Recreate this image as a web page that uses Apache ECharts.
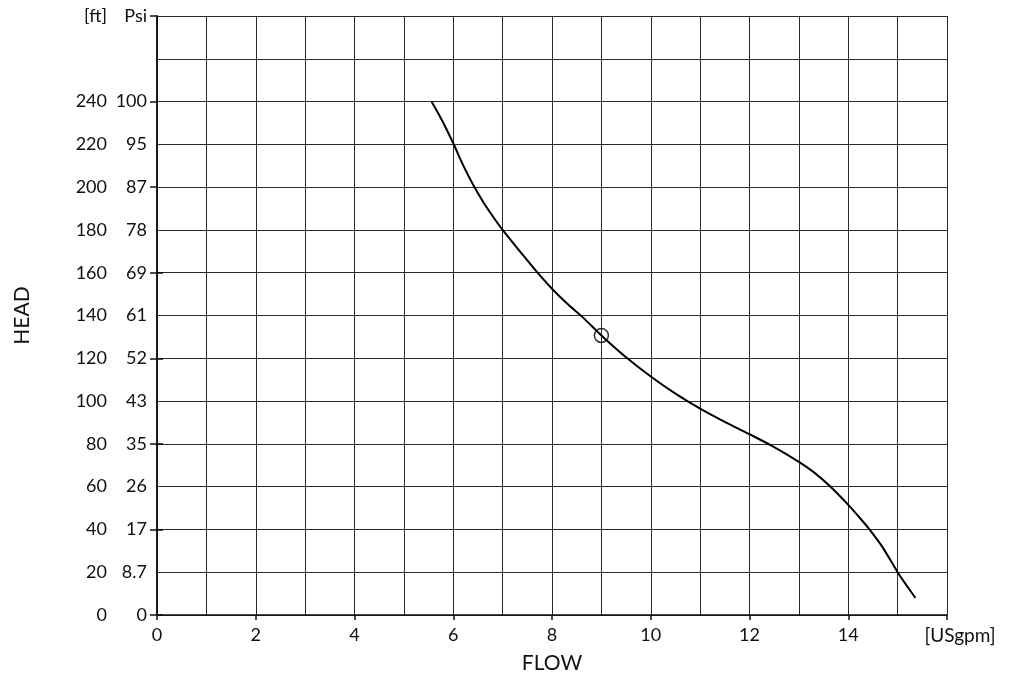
<!DOCTYPE html>
<html>
<head>
<meta charset="utf-8">
<script src="https://cdn.jsdelivr.net/npm/echarts@6/dist/echarts.min.js"></script>
<style>
html,body{margin:0;padding:0;background:#fff;}
#chart{width:1012px;height:683px;}
</style>
</head>
<body>
<div id="chart"></div>
<script>
// Pump curve: flow [USgpm] vs head [ft]
const flowValues = [5.56, 5.8, 6.0, 6.2, 6.4, 6.6, 6.8, 7.0, 7.35, 7.69, 8.0, 8.3, 8.63, 9.0, 9.5, 10.0, 10.5, 11.0, 11.5, 12.0, 12.5, 13.0, 13.3, 13.62, 14.0, 14.25, 14.43, 14.7, 15.0, 15.2, 15.36];
const headValues = [240, 230, 220.5, 210.3, 201.2, 193.3, 186.4, 180, 170, 160.5, 152.5, 145.7, 139, 130.7, 120.5, 111.5, 103.5, 96.5, 90.3, 84.5, 78.5, 71.6, 66.8, 60.4, 51.5, 45, 40, 31.5, 20, 13.2, 8];
const dutyPoint = [9.0, 130.7];

// Y axis tick labels (ft and Psi)
const ftTicks = [0, 20, 40, 60, 80, 100, 120, 140, 160, 180, 200, 220, 240, 280];
const ftLabels = ['0', '20', '40', '60', '80', '100', '120', '140', '160', '180', '200', '220', '240', '[ft]'];
const psiLabels = ['0', '8.7', '17', '26', '35', '43', '52', '61', '69', '78', '87', '95', '100', 'Psi'];
const leftTickValues = [0, 40, 80, 120, 160, 200, 240, 280];
const rightTickValues = [0, 40, 80, 120, 160];

// X axis tick labels
const flowTicks = [0, 2, 4, 6, 8, 10, 12, 14, 16];
const flowTickLabels = ['0', '2', '4', '6', '8', '10', '12', '14', '[USgpm]'];

const FONT = 'Lato';
const TXT = '#111';
const curve = flowValues.map((f, i) => [f, headValues[i]]);

const chart = echarts.init(document.getElementById('chart'), null, {renderer: 'canvas'});
const gridLine = {show: true, lineStyle: {color: '#2a2a2a', width: 1, type: 'solid'}};
const hidden = {axisLine: {show: false}, axisTick: {show: false}, axisLabel: {show: false}};

chart.setOption({
  animation: false,
  backgroundColor: '#fff',
  grid: {left: 157, right: 65, top: 16, bottom: 68, containLabel: false},
  xAxis: [{
    type: 'value', min: 0, max: 16, interval: 1, position: 'bottom',
    name: 'FLOW', nameLocation: 'middle', nameGap: 38,
    nameTextStyle: {fontFamily: FONT, fontSize: 21, color: TXT},
    axisLine: {show: true, onZero: false, lineStyle: {color: '#111', width: 1.5}},
    axisTick: {show: true, length: 5, inside: false, customValues: flowTicks, lineStyle: {color: '#111', width: 1.5}},
    axisLabel: {
      show: true, margin: 11, customValues: flowTicks,
      fontFamily: FONT, fontSize: 18, color: TXT,
      formatter: v => {
        const i = flowTicks.indexOf(v);
        if (i < 0) return '';
        if (v === 16) return '{u|' + flowTickLabels[i] + '}';
        return flowTickLabels[i];
      },
      rich: {u: {fontFamily: FONT, fontSize: 19, color: TXT, padding: [0, 0, 0, 26]}}
    },
    splitLine: {show: false}
  }, Object.assign({
    type: 'value', min: 0, max: 16, interval: 1, position: 'top',
    splitLine: gridLine
  }, hidden)],
  yAxis: [{
    type: 'value', min: 0, max: 280, interval: 20, position: 'left',
    name: 'HEAD', nameLocation: 'middle', nameGap: 124, nameRotate: 90,
    nameTextStyle: {fontFamily: FONT, fontSize: 21, color: TXT},
    axisLine: {show: true, lineStyle: {color: '#111', width: 1.5}},
    axisTick: {show: true, length: 7, customValues: leftTickValues, lineStyle: {color: '#111', width: 1.5}},
    axisLabel: {
      show: true, margin: 10, customValues: ftTicks,
      formatter: v => {
        const i = ftTicks.indexOf(v);
        if (i < 0) return '';
        return '{a|' + ftLabels[i] + '}{b|' + psiLabels[i] + '}';
      },
      rich: {
        a: {fontFamily: FONT, fontSize: 18, color: TXT, width: 36, align: 'right'},
        b: {fontFamily: FONT, fontSize: 18, color: TXT, width: 40, align: 'right'}
      }
    },
    splitLine: {show: false}
  }, {
    type: 'value', min: 0, max: 280, interval: 20, position: 'right',
    axisLine: {show: true, lineStyle: {color: '#111', width: 1.5}},
    axisTick: {show: true, length: 6, customValues: rightTickValues, lineStyle: {color: '#111', width: 1.5}},
    axisLabel: {show: false},
    splitLine: {show: false}
  }, Object.assign({
    type: 'value', min: 0, max: 280, interval: 20, position: 'right',
    splitLine: gridLine
  }, hidden)],
  series: [{
    type: 'line',
    xAxisIndex: 0, yAxisIndex: 0,
    data: curve,
    smooth: 0.3,
    showSymbol: false,
    symbol: 'none',
    lineStyle: {color: '#000', width: 2},
    z: 5
  }, {
    type: 'scatter',
    xAxisIndex: 0, yAxisIndex: 0,
    data: [dutyPoint],
    symbol: 'circle',
    symbolSize: 14,
    itemStyle: {color: 'rgba(255,255,255,0)', borderColor: '#000', borderWidth: 1.5},
    z: 6
  }]
});
</script>
</body>
</html>
